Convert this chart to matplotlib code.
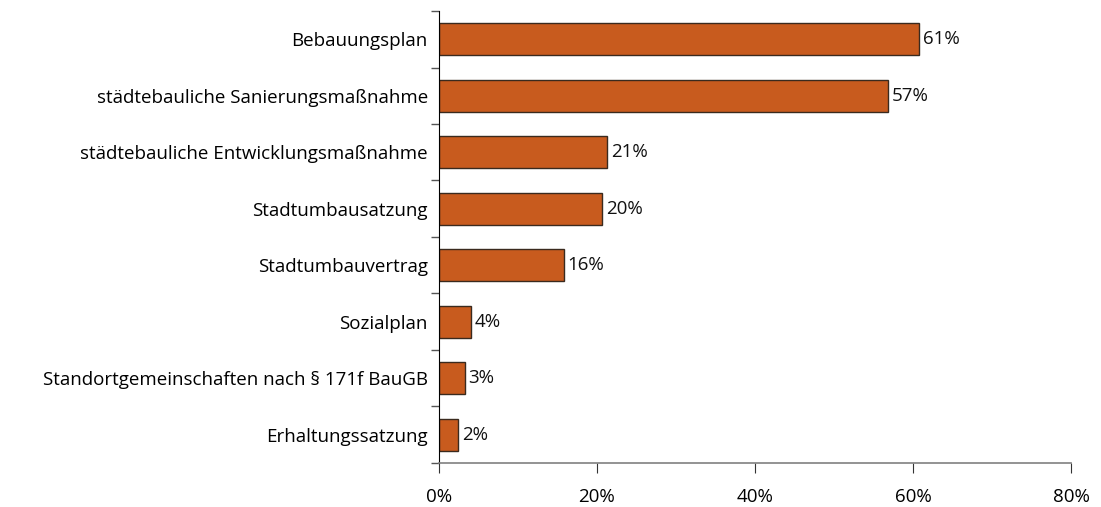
import matplotlib.pyplot as plt
from matplotlib.ticker import FixedLocator
import numpy as np

kategorien = ['Bebauungsplan', 'städtebauliche Sanierungsmaßnahme',
              'städtebauliche Entwicklungsmaßnahme', 'Stadtumbausatzung',
              'Stadtumbauvertrag', 'Sozialplan',
              'Standortgemeinschaften nach § 171f BauGB', 'Erhaltungssatzung']
werte = [60.8, 56.8, 21.3, 20.6, 15.8, 4.0, 3.25, 2.45]
beschriftung = ['61%', '57%', '21%', '20%', '16%', '4%', '3%', '2%']
x_ticks = [0, 20, 40, 60, 80]
x_labels = ['0%', '20%', '40%', '60%', '80%']

plt.rcParams['font.family'] = ['Open Sans', 'DejaVu Sans']

fig = plt.figure(figsize=(11.01, 5.07), dpi=100)
ax = fig.add_axes([0.3987, 0.0868, 0.5741, 0.8915])

y = np.arange(len(kategorien))
ax.barh(y, werte, height=0.57, color='#C85B1E', edgecolor='#3a2a1e', linewidth=1)
for yi, w, txt in zip(y, werte, beschriftung):
    ax.text(w + 0.5, yi, txt, va='center', ha='left', fontsize=13.5, color='#111111')

ax.set_xlim(0, 80)
ax.set_ylim(len(kategorien) - 0.5, -0.5)
ax.set_xticks(x_ticks)
ax.set_xticklabels(x_labels, fontsize=13.5)
ax.set_yticks(y)
ax.set_yticklabels(kategorien, fontsize=13.5)
ax.yaxis.set_minor_locator(FixedLocator(np.arange(-0.5, len(kategorien), 1)))

ax.tick_params(axis='y', which='major', length=0, pad=8)
ax.tick_params(axis='y', which='minor', length=6, color='#555555', width=1)
ax.tick_params(axis='x', length=7, color='#333333', pad=11)

for s in ['top', 'right']:
    ax.spines[s].set_visible(False)
ax.spines['bottom'].set_color('#808080')
ax.spines['bottom'].set_linewidth(1.2)
ax.spines['left'].set_color('black')

fig.savefig('out.png', dpi=100)
